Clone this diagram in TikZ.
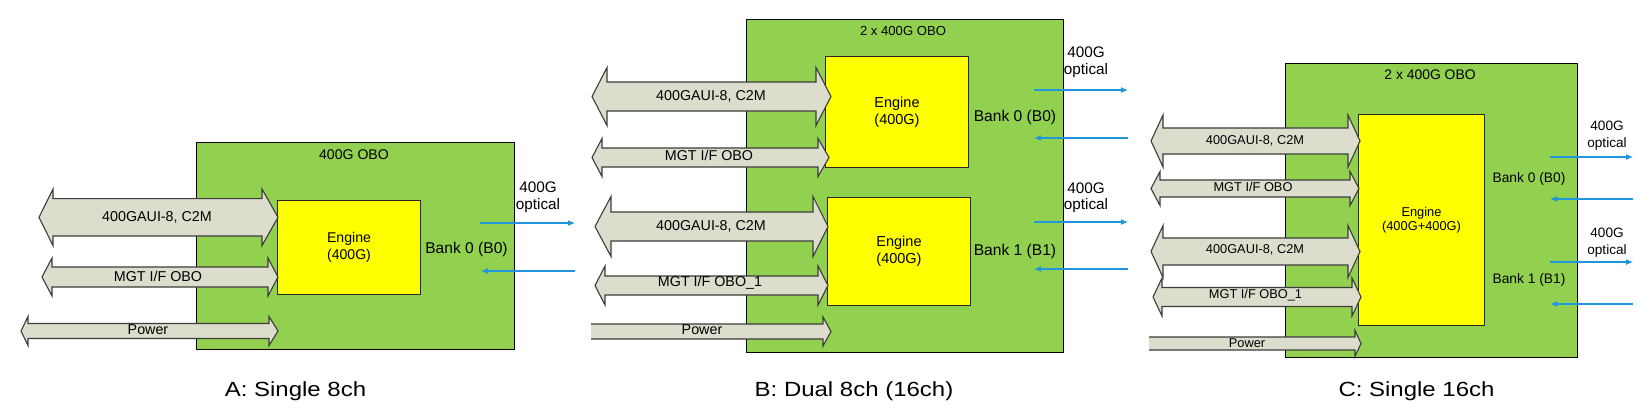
\documentclass[tikz,border=0pt]{standalone}
\usepackage{fontspec}
\setmainfont{Liberation Sans}
\usetikzlibrary{arrows.meta}
\definecolor{obogreen}{RGB}{146,208,80}
\definecolor{engyellow}{RGB}{255,255,0}
\definecolor{busfill}{RGB}{221,221,205}
\definecolor{busline}{RGB}{60,60,60}
\definecolor{optblue}{RGB}{32,150,220}
\newcommand\fszAB{\fontsize{14.3}{16.7}\selectfont}
\newcommand\fszC{\fontsize{12.8}{14.5}\selectfont}
\newcommand\fszBankAB{\fontsize{15.6}{18}\selectfont}
\newcommand\fszBankC{\fontsize{13.8}{16}\selectfont}
\newcommand\fszOptAB{\fontsize{15.3}{16.5}\selectfont}
\newcommand\fszOptC{\fontsize{13.6}{17}\selectfont}
% double-headed bus arrow: tipL, baseL, baseR, tipR, yc, body half, head half
\newcommand\busdbl[7]{%
  \draw[bus] (#1,#5) -- (#2,#5-#7) -- (#2,#5-#6) -- (#3,#5-#6) -- (#3,#5-#7) -- (#4,#5)
    -- (#3,#5+#7) -- (#3,#5+#6) -- (#2,#5+#6) -- (#2,#5+#7) -- cycle;}
% single-headed bus arrow, open left end: left, base, tip, yc, body half, head half
\newcommand\bussgl[6]{%
  \fill[busfill] (#1,#4-#5) -- (#2,#4-#5) -- (#2,#4-#6) -- (#3,#4) -- (#2,#4+#6) -- (#2,#4+#5) -- (#1,#4+#5) -- cycle;
  \draw[busedge] (#1,#4-#5) -- (#2,#4-#5) -- (#2,#4-#6) -- (#3,#4) -- (#2,#4+#6) -- (#2,#4+#5) -- (#1,#4+#5);}
\tikzset{
  obo/.style={draw=black, fill=obogreen, line width=1pt, anchor=north west, inner sep=0pt, outer sep=0pt},
  engine/.style={draw=black!85, fill=engyellow, line width=1pt, anchor=north west, inner sep=0pt, align=center},
  bus/.style={draw=busline, fill=busfill, line width=1.1pt, line join=miter},
  busedge/.style={draw=busline, line width=1.1pt, line join=miter},
  lbl/.style={inner sep=0pt, align=center},
  opt/.style={draw=optblue, line width=1.1pt, -{Latex[length=7pt,width=6pt]}},
  capt/.style={inner sep=0pt, font=\fontsize{20.5}{24}\selectfont, xscale=1.17, transform shape},
}
\begin{document}
\begin{tikzpicture}[x=1pt,y=-1pt]
\useasboundingbox (0,0) rectangle (1652,418);
\fill[white] (0,0) rectangle (1652,418);

% ---------------- Panel A ----------------
\node[obo, minimum width=318, minimum height=207] (Abox) at (196,142) {};
\node[lbl, font=\fontsize{14.1}{16}\selectfont] (Atitle) at (354,155) {400G OBO};
\node[engine, minimum width=143, minimum height=94, font=\fontsize{14.1}{16.7}\selectfont] (Aeng) at (277,200) {Engine\\(400G)};
\node[lbl, font=\fszBankAB] (Abank) at (466.5,249) {Bank 0 (B0)};
\node[lbl, font=\fszOptAB] (Aopt) at (538,197) {400G\\optical};
\coordinate (Ao1s) at (480,223); \coordinate (Ao1e) at (575,223);
\coordinate (Ai1s) at (575,271); \coordinate (Ai1e) at (481,271);
\draw[opt] (Ao1s) -- (Ao1e);
\draw[opt] (Ai1s) -- (Ai1e);
\busdbl{39}{53}{262}{278}{217.3}{18.7}{28.3}
\node[lbl, font=\fszAB] (Agaui) at (157,217) {400GAUI-8, C2M};
\busdbl{42}{52}{268}{278}{277}{10}{19}
\node[lbl, font=\fszAB] (Amgt) at (158,276) {MGT I/F OBO};
\busdbl{21}{28}{269}{278}{331}{7.5}{14.5}
\node[lbl, font=\fszAB] (Apow) at (148,330) {Power};

% ---------------- Panel B ----------------
\node[obo, minimum width=317, minimum height=333] (Bbox) at (746,19) {};
\node[lbl, font=\fontsize{13.1}{15}\selectfont] (Btitle) at (903,31) {2 x 400G OBO};
\node[engine, minimum width=143, minimum height=111, font=\fontsize{14.5}{16.7}\selectfont] (Beng1) at (825,56) {Engine\\(400G)};
\node[engine, minimum width=143, minimum height=108, font=\fontsize{14.5}{16.7}\selectfont] (Beng2) at (827,197) {Engine\\(400G)};
\node[lbl, font=\fszBankAB] (Bbank0) at (1015,117) {Bank 0 (B0)};
\node[lbl, font=\fszBankAB] (Bbank1) at (1015,251) {Bank 1 (B1)};
\node[lbl, font=\fszOptAB] (Bopt1) at (1086,62) {400G\\optical};
\node[lbl, font=\fszOptAB] (Bopt2) at (1086,197.5) {400G\\optical};
\coordinate (Bo1s) at (1034,90);  \coordinate (Bo1e) at (1128,90);
\coordinate (Bi1s) at (1128,138); \coordinate (Bi1e) at (1034,138);
\coordinate (Bo2s) at (1034,222); \coordinate (Bo2e) at (1128,222);
\coordinate (Bi2s) at (1128,269); \coordinate (Bi2e) at (1034,269);
\draw[opt] (Bo1s) -- (Bo1e);
\draw[opt] (Bi1s) -- (Bi1e);
\draw[opt] (Bo2s) -- (Bo2e);
\draw[opt] (Bi2s) -- (Bi2e);
\busdbl{592}{607}{816}{831}{96.5}{14.5}{29}
\node[lbl, font=\fszAB] (Bgaui1) at (711,96) {400GAUI-8, C2M};
\busdbl{592}{602}{818}{829}{157.5}{9.5}{19}
\node[lbl, font=\fszAB] (Bmgt1) at (709,155) {MGT I/F OBO};
\busdbl{595}{611}{813}{828}{226.5}{14.5}{30}
\node[lbl, font=\fszAB] (Bgaui2) at (711,226) {400GAUI-8, C2M};
\busdbl{595}{605}{818}{828}{285.5}{9.5}{19.5}
\node[lbl, font=\fszAB] (Bmgt2) at (710,283) {MGT I/F OBO\_1};
\bussgl{591}{823}{831}{331.5}{7.5}{14.5}
\node[lbl, font=\fszAB] (Bpow) at (702,330) {Power};

% ---------------- Panel C ----------------
\node[obo, minimum width=292, minimum height=294] (Cbox) at (1285,63) {};
\node[lbl, font=\fontsize{13.9}{16}\selectfont] (Ctitle) at (1430,75) {2 x 400G OBO};
\node[engine, minimum width=126, minimum height=211, font=\fontsize{12.85}{14.3}\selectfont] (Ceng) at (1358,114) {Engine\\(400G+400G)};
\node[lbl, font=\fszBankC] (Cbank0) at (1529,179) {Bank 0 (B0)};
\node[lbl, font=\fszBankC] (Cbank1) at (1529,280) {Bank 1 (B1)};
\node[lbl, font=\fszOptC] (Copt1) at (1607,135.5) {400G\\optical};
\node[lbl, font=\fszOptC] (Copt2) at (1607,242.5) {400G\\optical};
\coordinate (Co1s) at (1550,157); \coordinate (Co1e) at (1633,157);
\coordinate (Ci1s) at (1633,199); \coordinate (Ci1e) at (1550,199);
\coordinate (Co2s) at (1550,262); \coordinate (Co2e) at (1633,262);
\coordinate (Ci2s) at (1633,304); \coordinate (Ci2e) at (1550,304);
\draw[opt] (Co1s) -- (Co1e);
\draw[opt] (Ci1s) -- (Ci1e);
\draw[opt] (Co2s) -- (Co2e);
\draw[opt] (Ci2s) -- (Ci2e);
\busdbl{1151}{1163}{1348}{1360}{141}{13}{26}
\node[lbl, font=\fszC] (Cgaui1) at (1255,141) {400GAUI-8, C2M};
\busdbl{1151}{1160}{1350}{1359}{188.5}{8.5}{17}
\node[lbl, font=\fszC] (Cmgt1) at (1253,187) {MGT I/F OBO};
\busdbl{1151}{1163}{1348}{1360}{251.5}{13.5}{26}
\node[lbl, font=\fszC] (Cgaui2) at (1255,250) {400GAUI-8, C2M};
\busdbl{1153}{1162}{1352}{1361}{297}{9.5}{19}
\node[lbl, font=\fszC] (Cmgt2) at (1255.5,295) {MGT I/F OBO\_1};
\bussgl{1149}{1355}{1361}{343.5}{6.5}{13}
\node[lbl, font=\fszC] (Cpow) at (1247,343) {Power};

% ---------------- Captions ----------------
\node[capt] (capA) at (295.5,391) {A: Single 8ch};
\node[capt] (capB) at (854,391) {B: Dual 8ch (16ch)};
\node[capt] (capC) at (1416.5,391) {C: Single 16ch};
\end{tikzpicture}
\end{document}
